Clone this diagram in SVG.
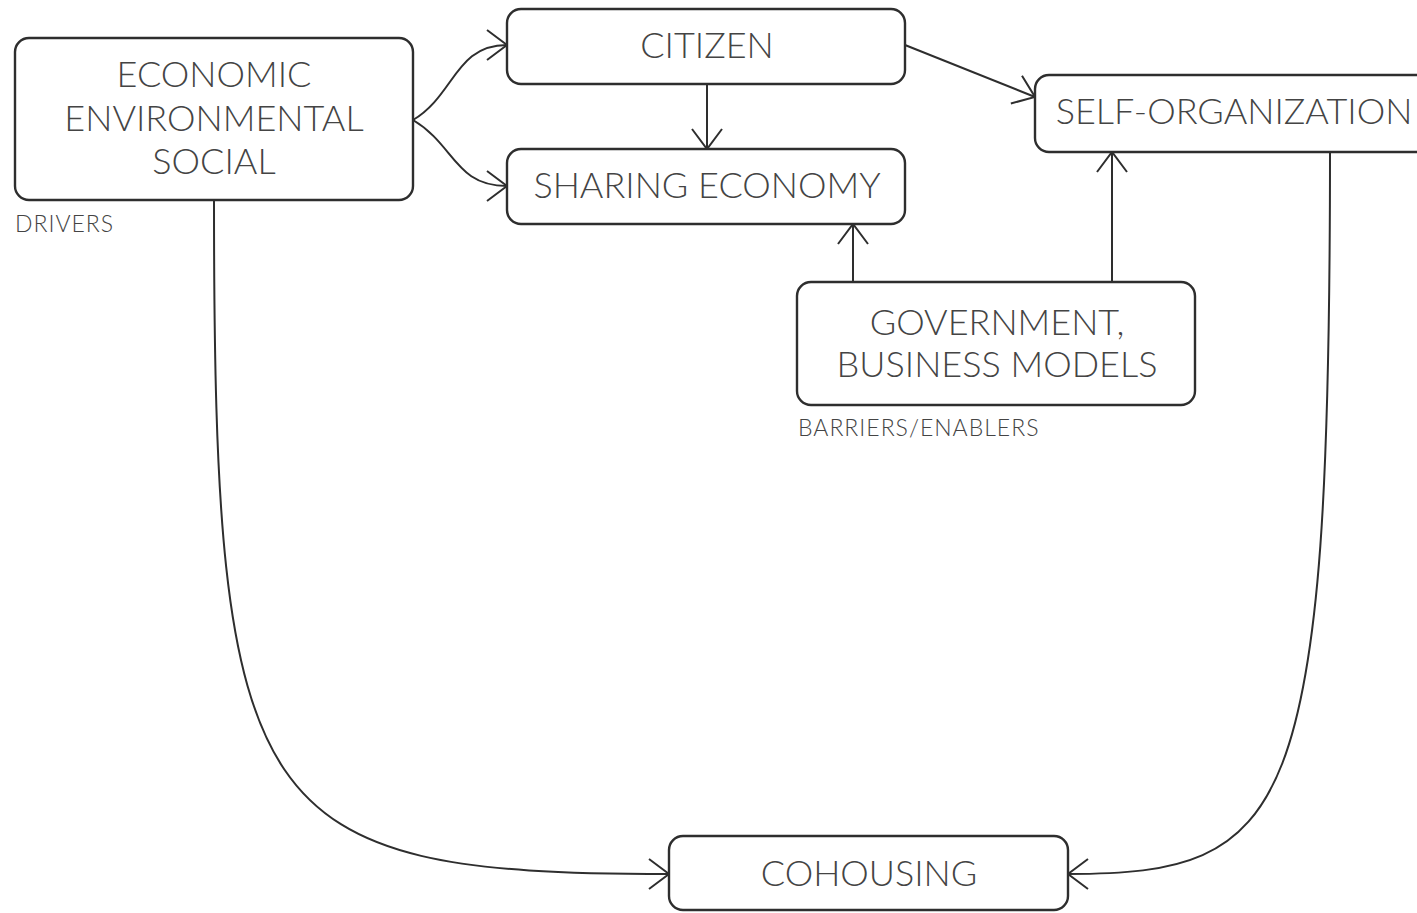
<svg xmlns="http://www.w3.org/2000/svg" width="1417" height="913" viewBox="0 0 1417 913">
<style>
.box{fill:#fff;stroke:#2e2e2e;stroke-width:2.4}
.t{font-family:Lato,"Liberation Sans",sans-serif;font-weight:300;fill:#444;font-size:36px;text-anchor:middle}
.s{font-family:Lato,"Liberation Sans",sans-serif;font-weight:300;fill:#444;font-size:23px;letter-spacing:1px}
.c{fill:none;stroke:#2e2e2e;stroke-width:2}
</style>
<defs>
<marker id="a" markerUnits="userSpaceOnUse" markerWidth="48" markerHeight="48" refX="0" refY="0" viewBox="-24 -24 48 48" orient="auto">
<path d="M-20,-15 L0,0 L-20,15" fill="none" stroke="#2e2e2e" stroke-width="2"/>
</marker>
</defs>
<g id="connectors">
<path class="c" d="M413,120 C455,95 455,45 507,45" marker-end="url(#a)"/>
<path class="c" d="M413,120 C455,145 455,186 507,186" marker-end="url(#a)"/>
<path class="c" d="M707,84 L707,149" marker-end="url(#a)"/>
<path class="c" d="M905,45 L1035,97" marker-end="url(#a)"/>
<path class="c" d="M853,282 L853,224" marker-end="url(#a)"/>
<path class="c" d="M1112,282 L1112,152" marker-end="url(#a)"/>
<path class="c" d="M214,200 C214,820 250,874 669,874" marker-end="url(#a)"/>
<path class="c" d="M1330,152 C1330,820 1290,874 1068,874" marker-end="url(#a)"/>
</g>
<g id="drivers">
<rect class="box" x="15" y="38" width="398" height="162" rx="14"/>
<text class="t" x="214" y="87">ECONOMIC</text>
<text class="t" x="214" y="131">ENVIRONMENTAL</text>
<text class="t" x="214" y="174">SOCIAL</text>
<text class="s" x="15" y="232">DRIVERS</text>
</g>
<g id="citizen">
<rect class="box" x="507" y="9" width="398" height="75" rx="14"/>
<text class="t" x="707" y="58">CITIZEN</text>
</g>
<g id="sharing">
<rect class="box" x="507" y="149" width="398" height="75" rx="14"/>
<text class="t" x="707" y="198">SHARING ECONOMY</text>
</g>
<g id="selforg">
<rect class="box" x="1035" y="75" width="398" height="77" rx="14"/>
<text class="t" x="1234" y="124">SELF-ORGANIZATION</text>
</g>
<g id="government">
<rect class="box" x="797" y="282" width="398" height="123" rx="14"/>
<text class="t" x="997" y="335">GOVERNMENT,</text>
<text class="t" x="997" y="377">BUSINESS MODELS</text>
<text class="s" x="798" y="436">BARRIERS/ENABLERS</text>
</g>
<g id="cohousing">
<rect class="box" x="669" y="836" width="399" height="74" rx="14"/>
<text class="t" x="869" y="886">COHOUSING</text>
</g>
</svg>
